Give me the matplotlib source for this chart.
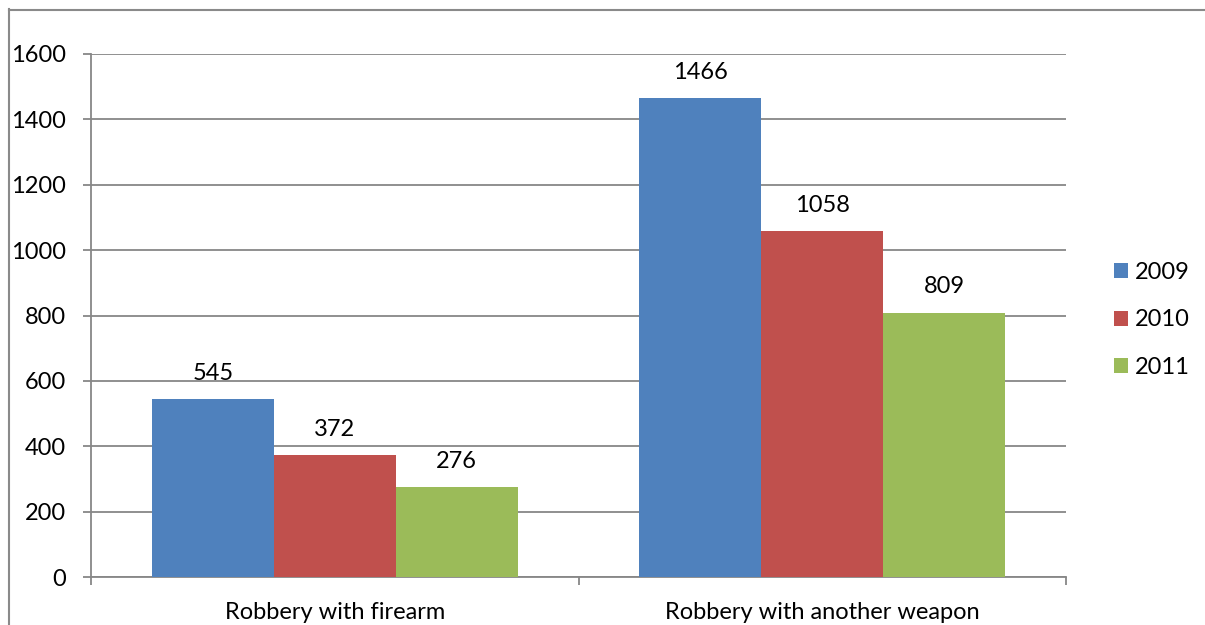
import matplotlib
matplotlib.use("Agg")
import matplotlib.pyplot as plt
from matplotlib.lines import Line2D
from matplotlib.patches import Patch
import numpy as np

categories = ["Robbery with firearm", "Robbery with another weapon"]
years = ["2009", "2010", "2011"]
values = {
    "2009": [545, 1466],
    "2010": [372, 1058],
    "2011": [276, 809],
}
colors = ["#4F81BD", "#C0504D", "#9BBB59"]
yticks = [0, 200, 400, 600, 800, 1000, 1200, 1400, 1600]

plt.rcParams['font.family'] = ['Lato', 'DejaVu Sans']
FS = 17
W, H = 1205, 625
fig = plt.figure(figsize=(W / 100, H / 100), dpi=100)
ax = fig.add_axes([91 / W, (H - 577) / H, (1066 - 91) / W, (577 - 54) / H])

grid_c = "#878787"
x = np.arange(len(categories))
bw = 0.25
for i, yr in enumerate(years):
    bars = ax.bar(x + (i - 1) * bw, values[yr], width=bw, color=colors[i], zorder=3)
    for b, v in zip(bars, values[yr]):
        ax.annotate(str(v), (b.get_x() + b.get_width() / 2, v), xytext=(0, 11),
                    textcoords="offset points", ha="center", va="bottom", fontsize=FS)

ax.set_xlim(-0.5, 1.5)
ax.set_ylim(0, 1600)
ax.set_yticks(yticks)
ax.set_yticklabels([str(t) for t in yticks], fontsize=FS)
ax.yaxis.grid(True, color=grid_c, linewidth=1.3, zorder=0)
ax.set_xticks([-0.5, 0.5, 1.5])
ax.set_xticklabels([])
ax.set_xticks(x, minor=True)
ax.set_xticklabels(categories, minor=True, fontsize=FS)
ax.tick_params(axis="x", which="minor", length=0, pad=18)
ax.tick_params(axis="x", which="major", length=5.8, color=grid_c, width=1.3)
ax.tick_params(axis="y", length=5.8, color=grid_c, width=1.3, pad=12)
for s in ["top", "right"]:
    ax.spines[s].set_visible(False)
for s in ["left", "bottom"]:
    ax.spines[s].set_color(grid_c)
    ax.spines[s].set_linewidth(1.3)

handles = [Patch(facecolor=c, edgecolor="none") for c in colors]
fig.legend(handles, years, loc="center left", bbox_to_anchor=(1093 / W, (H - 320) / H),
           frameon=False, fontsize=FS, handlelength=0.6, handleheight=0.6,
           handletextpad=0.28, labelspacing=1.12)

# outer chart frame (cropped)
fig.add_artist(Line2D([8.5 / W, 8.5 / W], [0, (H - 9) / H], color="#8a8a8a", lw=1.5, transform=fig.transFigure))
fig.add_artist(Line2D([8.5 / W, 1], [(H - 9.5) / H, (H - 9.5) / H], color="#8a8a8a", lw=1.5, transform=fig.transFigure))

fig.savefig("out.png", dpi=100)
